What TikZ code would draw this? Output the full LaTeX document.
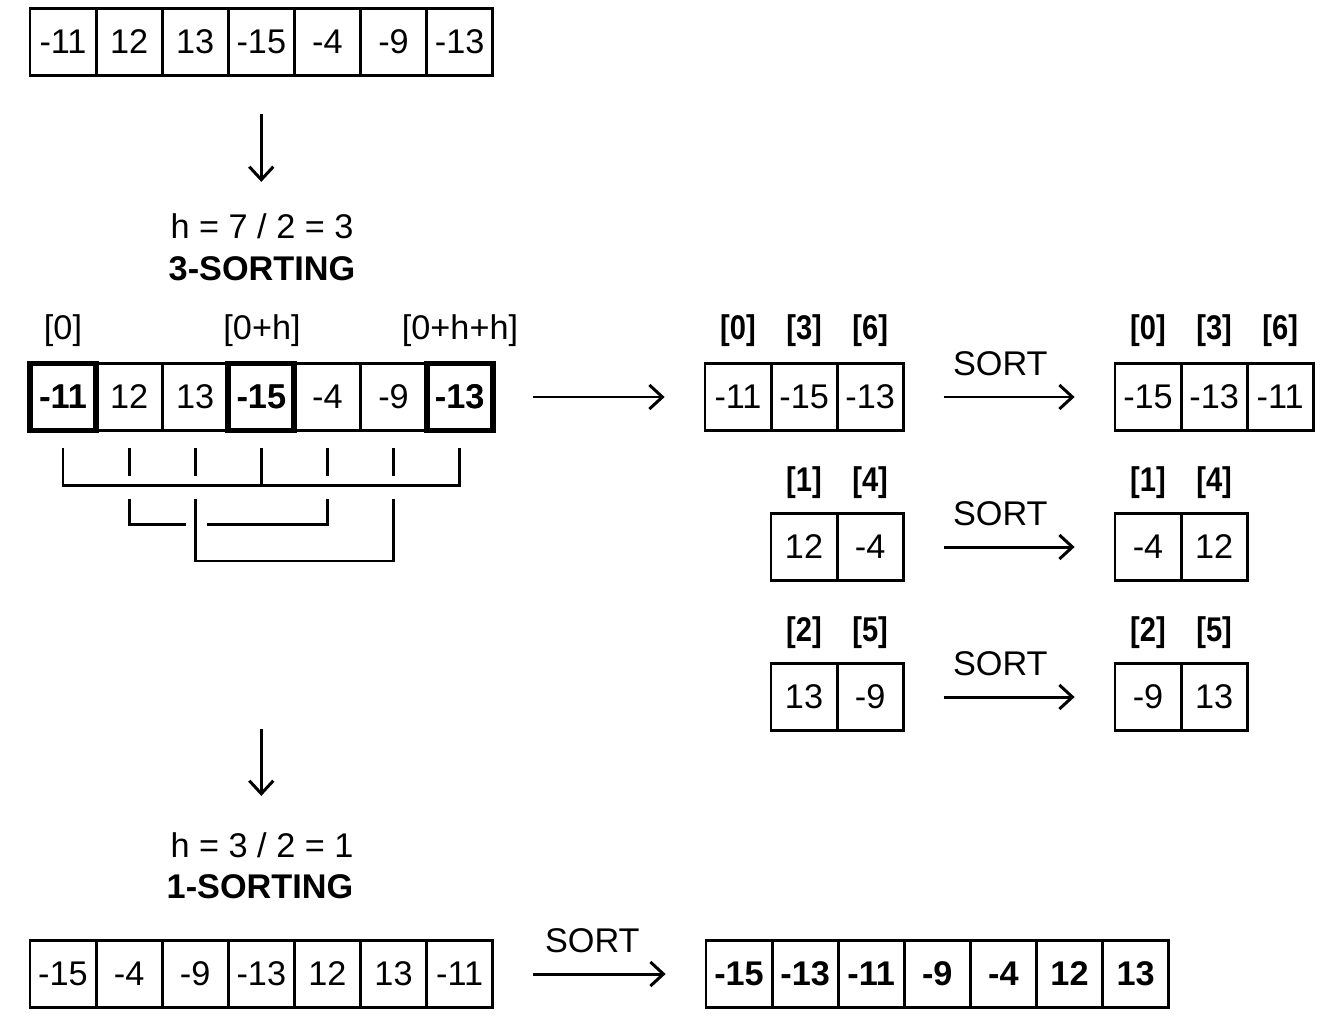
\documentclass[tikz,border=0pt]{standalone}
\usepackage{fontspec}
\setmainfont{Liberation Sans}
\usetikzlibrary{arrows.meta,calc}

\begin{document}
\begin{tikzpicture}[x=0.02cm, y=-0.02cm,
  every node/.style={font=\fontsize{19.5}{22}\selectfont},
  cell/.style={draw, line width=1.6pt, minimum width=1.32cm, minimum height=1.34cm, inner sep=0pt},
  keycell/.style={cell, line width=3.4pt, font=\fontsize{19.5}{22}\selectfont\bfseries},
  idx/.style={inner sep=0pt, font=\fontsize{19.5}{22}\selectfont\bfseries},
  flow/.style={line width=1.7pt, -{Straight Barb[length=2.6mm, width=4.8mm]}},
  sortlbl/.style={above=11pt, inner sep=0pt},
  bracket/.style={line width=1.6pt}]
\useasboundingbox (0,0) rectangle (1321,1024);

% Input array
\foreach \v [count=\i from 0] in {-11,12,13,-15,-4,-9,-13}
  \node[cell] (a\i) at (63+66.1*\i,42) {\v};
\draw[flow] ($(a3.south)+(0,37)$) -- ($(a3.south)+(0,105)$);
\node (h1) at (262,226) {h = 7 / 2 = 3};
\node[font=\fontsize{19.5}{22}\selectfont\bfseries] (s1) at (262,269) {3-SORTING};

% 3-sorting row
\foreach \v [count=\i from 0] in {-11,12,13,-15,-4,-9,-13}
  \node[cell] (b\i) at (63+66.1*\i,397) {\v};
\foreach \i/\v in {0/-11,3/-15,6/-13}
  \node[keycell] at (b\i) {\v};
\node[inner sep=0pt] at (63,331) {[0]};
\node[inner sep=0pt] at (262,331) {[0+h]};
\node[inner sep=0pt] at (460,331) {[0+h+h]};

% Brackets
\draw[bracket] ($(b0.south)+(0,16)$) |- ($(b6.south)+(0,54)$) -- ($(b6.south)+(0,16)$);
\draw[bracket] ($(b3.south)+(0,16)$) -- ($(b3.south)+(0,54)$);
\foreach \i in {1,2,4,5}
  \draw[bracket] ($(b\i.south)+(0,16)$) -- ++(0,28);
\draw[bracket] ($(b1.south)+(0,67)$) |- ($(b1.south)+(57,93)$);
\draw[bracket] ($(b1.south)+(78,93)$) -| ($(b4.south)+(0,67)$);
\draw[bracket] ($(b2.south)+(0,67)$) |- ($(b5.south)+(0,129)$) -- ($(b5.south)+(0,67)$);

% Subarrays
\foreach \g/\y/\n in {p/397/3,r/547/2,t/697/2}{
  \foreach \j in {1,...,\n}{
    \pgfmathsetmacro{\px}{(\n==3 ? 738 : 804)+66.1*(\j-1)}
    \pgfmathsetmacro{\qx}{1148+66.1*(\j-1)}
    \coordinate (\g\j) at (\px,\y);
    \coordinate (\g s\j) at (\qx,\y);
  }
}
\foreach \i/\v/\w/\k in {1/-11/-15/0,2/-15/-13/3,3/-13/-11/6}{
  \node[cell] (p\i) at (p\i) {\v};
  \node[cell] (ps\i) at (ps\i) {\w};
  \node[idx] at ($(p\i)+(0,-66)$) {\scalebox{0.85}[1]{[\k]}};
  \node[idx] at ($(ps\i)+(0,-66)$) {\scalebox{0.85}[1]{[\k]}};
}
\foreach \i/\v/\w/\k in {1/12/-4/1,2/-4/12/4}{
  \node[cell] (r\i) at (r\i) {\v};
  \node[cell] (rs\i) at (rs\i) {\w};
  \node[idx] at ($(r\i)+(0,-64)$) {\scalebox{0.85}[1]{[\k]}};
  \node[idx] at ($(rs\i)+(0,-64)$) {\scalebox{0.85}[1]{[\k]}};
}
\foreach \i/\v/\w/\k in {1/13/-9/2,2/-9/13/5}{
  \node[cell] (t\i) at (t\i) {\v};
  \node[cell] (ts\i) at (ts\i) {\w};
  \node[idx] at ($(t\i)+(0,-64)$) {\scalebox{0.85}[1]{[\k]}};
  \node[idx] at ($(ts\i)+(0,-64)$) {\scalebox{0.85}[1]{[\k]}};
}
\draw[flow] ($(b6.east)+(39,0)$) -- ($(p1.west)+(-39,0)$);
\draw[flow] ($(p3.east)+(39,0)$) -- node[sortlbl, xshift=-5pt] {SORT} ($(ps1.west)+(-39,0)$);
\draw[flow] ($(r2.east)+(39,0)$) -- node[sortlbl, xshift=-5pt] {SORT} ($(rs1.west)+(-39,0)$);
\draw[flow] ($(t2.east)+(39,0)$) -- node[sortlbl, xshift=-5pt] {SORT} ($(ts1.west)+(-39,0)$);

% 1-sorting
\draw[flow] ($(b3.south)+(0,297)$) -- ($(b3.south)+(0,364)$);
\node (h2) at (262,845) {h = 3 / 2 = 1};
\node[font=\fontsize{19.5}{22}\selectfont\bfseries] (s2) at (260,887) {1-SORTING};

\foreach \v [count=\i from 0] in {-15,-4,-9,-13,12,13,-11}
  \node[cell] (c\i) at (63+66.1*\i,974) {\v};
\foreach \v [count=\i from 0] in {-15,-13,-11,-9,-4,12,13}
  \node[cell, font=\fontsize{19.5}{22}\selectfont\bfseries] (e\i) at (739+66.1*\i,974) {\v};
\draw[flow] ($(c6.east)+(39,0)$) -- node[sortlbl, xshift=-4pt] {SORT} ($(e0.west)+(-39,0)$);
\end{tikzpicture}
\end{document}
